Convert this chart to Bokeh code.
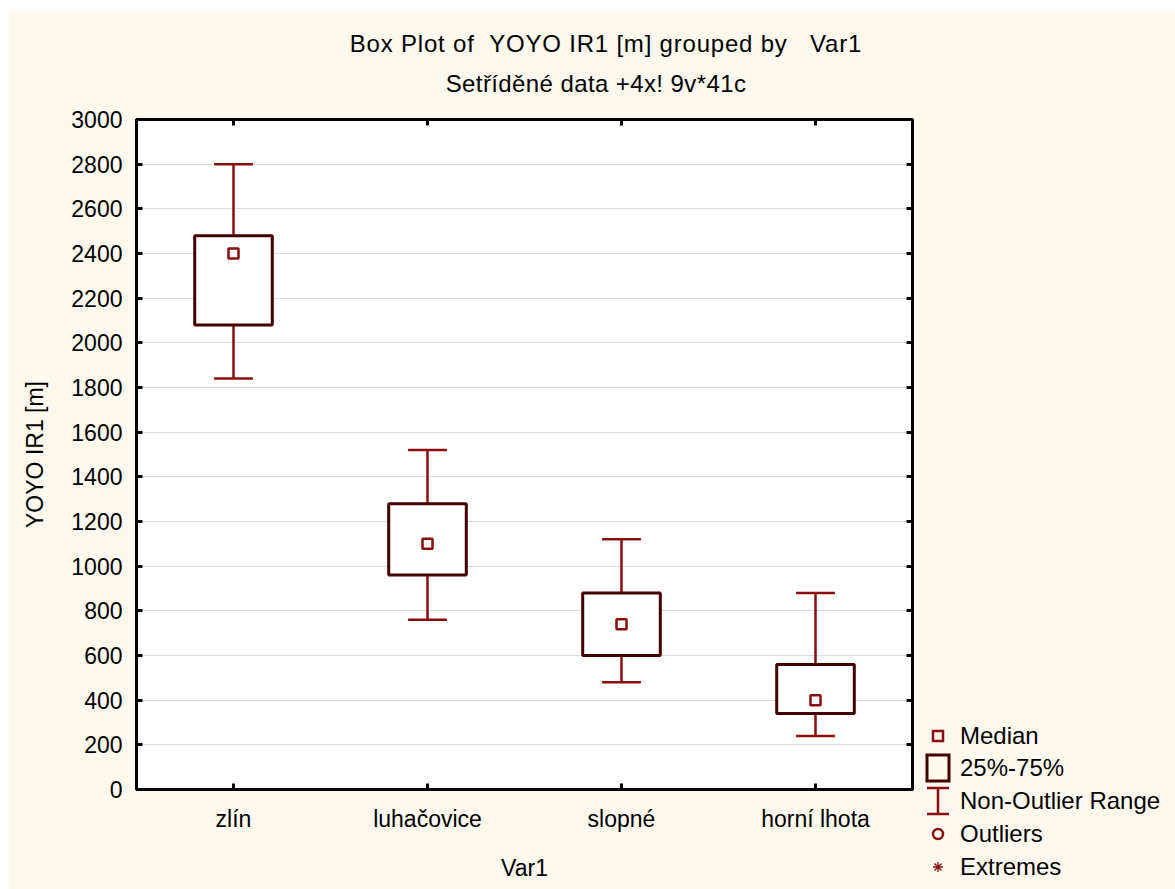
import math
from bokeh.plotting import figure
from bokeh.layouts import row, column
from bokeh.models import (FactorRange, Range1d, SingleIntervalTicker, LinearAxis,
                          CategoricalAxis, ColumnDataSource, Div)
from bokeh.transform import dodge
from bokeh.embed import file_html
from bokeh.resources import INLINE

# --- data -----------------------------------------------------------------
categories = ["zlín", "luhačovice", "slopné", "horní lhota"]
whisker_low = [1840, 760, 480, 240]
q1 = [2080, 960, 600, 340]
median = [2400, 1100, 740, 400]
q3 = [2480, 1280, 880, 560]
whisker_high = [2800, 1520, 1120, 880]

title_text = "Box Plot of&nbsp; YOYO IR1 [m] grouped by &nbsp;&nbsp;Var1"
subtitle_text = "Setříděné data +4x! 9v*41c"
legend_labels = ["Median", "25%-75%", "Non-Outlier Range", "Outliers", "Extremes"]

# --- style ----------------------------------------------------------------
FONT = "Liberation Sans"
FS = "23px"
BG = "#fef9ef"
RED = "#8b0e0e"
BOX = "#420000"
GRID = "#dcdcdc"

# overall geometry (pixels)
TITLE_H = 90
PLOT_W, PLOT_H = 911, 788
LEG_W = 255

src = ColumnDataSource(dict(cat=categories, low=whisker_low, q1=q1,
                            med=median, q3=q3, high=whisker_high))

p = figure(x_range=FactorRange(*categories, range_padding=0),
           y_range=Range1d(0, 3000),
           width=PLOT_W, height=PLOT_H, output_backend="svg", toolbar_location=None,
           min_border_left=127, min_border_right=8,
           min_border_top=18, min_border_bottom=100)
p.background_fill_color = "white"
p.border_fill_color = BG
p.outline_line_color = "black"
p.outline_line_width = 3

ticker = SingleIntervalTicker(interval=200, num_minor_ticks=0)

def style_axis(ax, labels=True):
    ax.axis_line_color = "black"
    ax.axis_line_width = 3
    ax.major_tick_line_color = "black"
    ax.major_tick_line_width = 3
    ax.major_tick_in = 6
    ax.major_tick_out = 0
    ax.minor_tick_line_color = None
    ax.major_label_text_font = FONT
    ax.axis_label_text_font = FONT
    ax.axis_label_text_font_style = "normal"
    ax.axis_label_text_font_size = FS
    ax.axis_label_text_color = "black"
    if labels:
        ax.major_label_text_font_size = FS
        ax.major_label_text_color = "black"
    else:
        # mirrored tick marks only
        ax.major_label_text_font_size = "1px"
        ax.major_label_text_color = None
        ax.major_label_standoff = 0

yax = p.yaxis[0]
yax.ticker = ticker
style_axis(yax)
yax.axis_label = "YOYO IR1 [m]"
yax.major_label_standoff = 14
yax.axis_label_standoff = 20

xax = p.xaxis[0]
style_axis(xax)
xax.axis_label = "Var1"
xax.major_label_standoff = 16
xax.axis_label_standoff = 20

rax = LinearAxis(ticker=ticker)
style_axis(rax, labels=False)
p.add_layout(rax, "right")
tax = CategoricalAxis()
style_axis(tax, labels=False)
p.add_layout(tax, "above")

p.xgrid.grid_line_color = None
p.ygrid.ticker = ticker
p.ygrid.grid_line_color = GRID
p.ygrid.grid_line_width = 1

# whisker stems
p.segment(x0="cat", y0="q3", x1="cat", y1="high", source=src, line_color=RED, line_width=2.5)
p.segment(x0="cat", y0="low", x1="cat", y1="q1", source=src, line_color=RED, line_width=2.5)
# whisker caps
p.segment(x0=dodge("cat", -0.1, range=p.x_range), y0="high",
          x1=dodge("cat", 0.1, range=p.x_range), y1="high",
          source=src, line_color=RED, line_width=2.5)
p.segment(x0=dodge("cat", -0.1, range=p.x_range), y0="low",
          x1=dodge("cat", 0.1, range=p.x_range), y1="low",
          source=src, line_color=RED, line_width=2.5)
# interquartile boxes
p.vbar(x="cat", width=0.4, bottom="q1", top="q3", source=src,
       fill_color="white", line_color=BOX, line_width=3)
# medians
p.scatter(x="cat", y="med", source=src, marker="square", size=10,
          fill_color="white", line_color=RED, line_width=2.5)

# --- title block ------------------------------------------------------------
TXT = f"font-family:'{FONT}';font-size:24px;color:black;white-space:nowrap;line-height:28px;"

def centered(cx, cy, s, spacing):
    return (f'<div style="position:absolute;left:{cx - 400}px;width:800px;top:{cy - 14}px;'
            f'text-align:center;letter-spacing:{spacing}px;{TXT}">{s}</div>')

title_html = (f'<div style="position:relative;width:{PLOT_W + LEG_W}px;height:{TITLE_H}px;'
              f'background:{BG};overflow:hidden;">'
              + centered(597, 33, title_text, 0.8)
              + centered(587, 73, subtitle_text, 0.4)
              + '</div>')
title_div = Div(text=title_html, width=PLOT_W + LEG_W, height=TITLE_H, margin=0,
                styles={"background-color": BG})

# --- legend block -----------------------------------------------------------
row_y = [635, 667, 700, 733, 766]   # item centres inside the legend block
sx, tx = 18, 40                      # symbol centre / text left edge

sym = []
y = row_y[0]
sym.append(f'<rect x="{sx-5}" y="{y-5}" width="10" height="10" fill="{BG}" stroke="{RED}" stroke-width="2.5"/>')
y = row_y[1]
sym.append(f'<rect x="{sx-11}" y="{y-13}" width="22" height="26" fill="{BG}" stroke="{BOX}" stroke-width="3"/>')
y = row_y[2]
sym.append(f'<path d="M{sx-11} {y-13}H{sx+11}M{sx} {y-13}V{y+13}M{sx-11} {y+13}H{sx+11}" '
           f'fill="none" stroke="{RED}" stroke-width="2.5"/>')
y = row_y[3]
sym.append(f'<circle cx="{sx}" cy="{y}" r="5" fill="{BG}" stroke="{RED}" stroke-width="2.5"/>')
y = row_y[4]
spokes = "".join(
    f"M{sx - 5*math.cos(a):.2f} {y - 5*math.sin(a):.2f}L{sx + 5*math.cos(a):.2f} {y + 5*math.sin(a):.2f}"
    for a in (0, math.pi/4, math.pi/2, 3*math.pi/4))
sym.append(f'<path d="{spokes}" fill="none" stroke="{RED}" stroke-width="1.3"/>')

labels_html = "".join(
    f'<div style="position:absolute;left:{tx}px;top:{yv - 14}px;{TXT}">{lab}</div>'
    for yv, lab in zip(row_y, legend_labels))

legend_html = (f'<div style="position:relative;width:{LEG_W}px;height:{PLOT_H}px;'
               f'background:{BG};overflow:hidden;">'
               f'<svg width="{LEG_W}" height="{PLOT_H}" style="position:absolute;left:0;top:0;">'
               + "".join(sym) + '</svg>' + labels_html + '</div>')
legend_div = Div(text=legend_html, width=LEG_W, height=PLOT_H, margin=0,
                 styles={"background-color": BG})

layout = column(title_div,
                row(p, legend_div, spacing=0, styles={"background-color": BG}),
                spacing=0, margin=(11, 0, 0, 9), styles={"background-color": BG})

open("out.html", "w").write(file_html(layout, INLINE))
